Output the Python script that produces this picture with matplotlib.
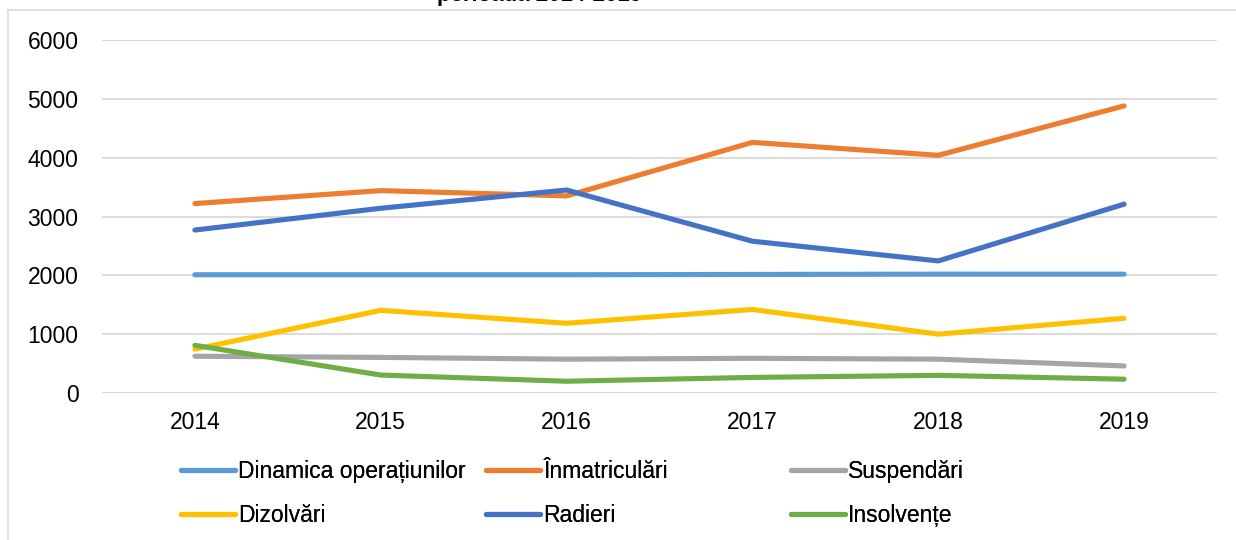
import matplotlib.pyplot as plt
from matplotlib.lines import Line2D

plt.rcParams['font.family'] = ['Liberation Sans', 'DejaVu Sans']

years = ['2014', '2015', '2016', '2017', '2018', '2019']
dinamica = [2010, 2010, 2010, 2015, 2020, 2020]
inmatriculari = [3220, 3440, 3350, 4260, 4040, 4880]
suspendari = [625, 605, 575, 590, 575, 460]
dizolvari = [745, 1405, 1185, 1420, 1000, 1270]
radieri = [2770, 3140, 3450, 2580, 2245, 3210]
insolvente = [810, 305, 200, 265, 300, 235]

series = [
    ('Dinamica operațiunilor', dinamica, '#5b9bd5'),
    ('Înmatriculări', inmatriculari, '#ed7d31'),
    ('Suspendări', suspendari, '#a5a5a5'),
    ('Dizolvări', dizolvari, '#ffc000'),
    ('Radieri', radieri, '#4472c4'),
    ('Insolvențe', insolvente, '#70ad47'),
]

fs = 16.5

fig = plt.figure(figsize=(12.36, 5.4), dpi=100)
ax = fig.add_axes([102 / 1236, 1 - 393 / 540, 1115 / 1236, 353 / 540])

x = list(range(len(years)))
handles = {}
for name, vals, color in series:
    ln, = ax.plot(x, vals, color=color, lw=3.7, solid_capstyle='round',
                  solid_joinstyle='round')
    handles[name] = ln

ax.set_xlim(-0.5, len(years) - 0.5)
ax.set_ylim(0, 6000)
ax.set_yticks(range(0, 6001, 1000))
ax.set_xticks(x)
ax.set_xticklabels(years)
ax.tick_params(axis='both', length=0, labelsize=fs)
ax.tick_params(axis='y', pad=17)
ax.tick_params(axis='x', pad=13)
ax.grid(axis='y', color='#d9d9d9', lw=1.3)
ax.set_axisbelow(True)
for s in ax.spines.values():
    s.set_visible(False)

# legend columns with equal widths, like the original
cols = [
    (181, ['Dinamica operațiunilor', 'Dizolvări']),
    (486, ['Înmatriculări', 'Radieri']),
    (791, ['Suspendări', 'Insolvențe']),
]
for xpix, names in cols:
    hs = [Line2D([], [], color=handles[n].get_color(), lw=3.7,
                 solid_capstyle='round') for n in names]
    leg = fig.legend(hs, names, loc='center left',
                     bbox_to_anchor=(xpix / 1236, 1 - 493.5 / 540),
                     frameon=False, fontsize=fs, handlelength=2.35,
                     handletextpad=0.15, labelspacing=0.95,
                     borderpad=0, borderaxespad=0)
    fig.add_artist(leg)

# chart border (cropped screenshot) and clipped title
fig.add_artist(Line2D([8 / 1236, 8 / 1236], [0, 1 - 10 / 540],
                      color='#d9d9d9', lw=1.2))
fig.add_artist(Line2D([8 / 1236, 1], [1 - 10 / 540, 1 - 10 / 540],
                      color='#d9d9d9', lw=1.2))
fig.text(437 / 1236, 1 - 0.5 / 540, 'perioada 2014-2019', fontsize=16,
         fontweight='bold', va='baseline', ha='left')

fig.savefig('out.png', dpi=100)
